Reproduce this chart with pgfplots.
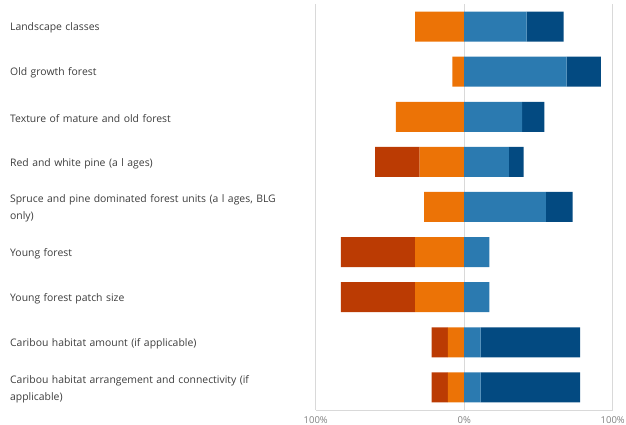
\documentclass[border=0pt]{standalone}
\usepackage{pgfplots}
\pgfplotsset{compat=1.18}
\usepackage{fontspec}
\setmainfont{Open Sans}
\definecolor{cOrange}{RGB}{236,115,6}
\definecolor{cRed}{RGB}{187,59,3}
\definecolor{cLight}{RGB}{43,122,176}
\definecolor{cDark}{RGB}{3,74,129}
\definecolor{cGrid}{RGB}{217,217,217}
\definecolor{cText}{RGB}{60,60,60}
\definecolor{cTick}{RGB}{128,128,128}
\begin{document}
\begin{tikzpicture}
\pgfplotsset{
  common/.style={
    width=297pt, height=406pt, scale only axis,
    xmin=-100, xmax=100, ymin=0.5, ymax=9.5,
    xbar stacked, bar width=30pt,
  }
}
% negative side
\begin{axis}[common, name=ax,
  axis x line*=bottom, axis y line*=left,
  x axis line style={cGrid, line width=0.8pt, -},
  y axis line style={draw=none},
  xmajorgrids, grid style={cGrid, line width=0.8pt},
  xtick={-100,0,100}, xticklabels={100\%,0\%,100\%},
  xticklabel style={font=\fontsize{9.5}{11}\selectfont, text=cTick, yshift=-3pt},
  major tick length=0pt,
  ytick={1,...,9},
  yticklabels={{Caribou habitat arrangement and connectivity (if\\applicable)},
    {Caribou habitat amount (if applicable)},
    {Young forest patch size},
    {Young forest},
    {Spruce and pine dominated forest units (a l ages, BLG\\only)},
    {Red and white pine (a l ages)},
    {Texture of mature and old forest},
    {Old growth forest},
    {Landscape classes}},
  yticklabel style={text width=302pt, align=left, text=cText,
    font=\fontsize{10.4}{17}\selectfont, yshift=-1.5pt},
  ytick style={draw=none}, xtick style={draw=none},
]
\addplot[fill=cOrange, draw=none] coordinates {(-11,1) (-11,2) (-33,3) (-33,4) (-27,5) (-30,6) (-46,7) (-8,8) (-33,9)};
\addplot[fill=cRed, draw=none] coordinates {(-11,1) (-11,2) (-50,3) (-50,4) (0,5) (-30,6) (0,7) (0,8) (0,9)};
\end{axis}
% positive side
\begin{axis}[common, hide axis]
\addplot[fill=cLight, draw=none] coordinates {(11,1) (11,2) (17,3) (17,4) (55,5) (30,6) (39,7) (69,8) (42,9)};
\addplot[fill=cDark, draw=none] coordinates {(67,1) (67,2) (0,3) (0,4) (18,5) (10,6) (15,7) (23,8) (25,9)};
\end{axis}
\pgfresetboundingbox
\path ([xshift=-315.7pt, yshift=4pt]ax.north west) rectangle ([xshift=13.3pt, yshift=-15pt]ax.south east);
\end{tikzpicture}
\end{document}
